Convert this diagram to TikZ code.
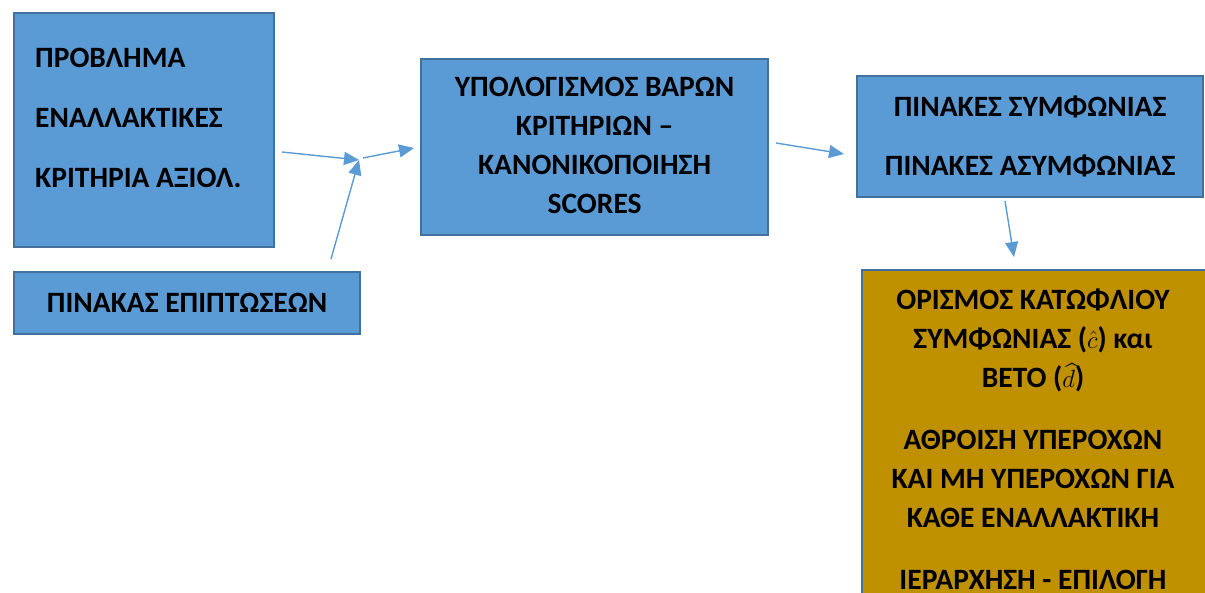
\documentclass[tikz,border=0pt]{standalone}
\usepackage{fontspec}
\setmainfont{Carlito}
\usepackage{amsmath}
\usepackage{tikz}
\usetikzlibrary{arrows.meta,positioning,calc}
\definecolor{boxblue}{HTML}{5B9BD5}
\definecolor{edgeblue}{HTML}{41719C}
\definecolor{boxgold}{HTML}{BF9000}
\newcommand{\hatsym}[1]{{\fontsize{33}{39}\selectfont$#1$}}

\begin{document}
\begin{tikzpicture}[x=1pt, y=-1pt,
  bluebox/.style={draw=edgeblue, line width=2.2pt, fill=boxblue, anchor=north west, inner sep=0pt},
  goldbox/.style={draw=edgeblue, line width=2.2pt, fill=boxgold, anchor=north west, inner sep=0pt},
  boxtext/.style={font=\fontsize{29.5}{39}\selectfont\bfseries, inner sep=0pt, align=center},
  flow/.style={-{Triangle[length=15pt,width=13pt]}, draw=boxblue, line width=1.4pt}]
\useasboundingbox (0,0) rectangle (1205,593);
% boxes
\node[bluebox, minimum width=260pt, minimum height=234pt] (prob) at (13,12) {};
\node[boxtext, anchor=north west, align=left] (probtxt) at (35,48)
  {ΠΡΟΒΛΗΜΑ\\[21pt] ΕΝΑΛΛΑΚΤΙΚΕΣ\\[21pt] ΚΡΙΤΗΡΙΑ ΑΞΙΟΛ.};
\node[bluebox, minimum width=346pt, minimum height=62pt] (impact) at (13,271) {};
\node[boxtext] (impacttxt) at (impact.center) {ΠΙΝΑΚΑΣ ΕΠΙΠΤΩΣΕΩΝ};
\node[bluebox, minimum width=347pt, minimum height=176pt] (weights) at (420,58) {};
\node[boxtext, yshift=2pt] (weightstxt) at (weights.center)
  {ΥΠΟΛΟΓΙΣΜΟΣ ΒΑΡΩΝ\\ ΚΡΙΤΗΡΙΩΝ --\\ ΚΑΝΟΝΙΚΟΠΟΙΗΣΗ\\ SCORES};
\node[bluebox, minimum width=346pt, minimum height=121pt] (tables) at (856,75) {};
\node[boxtext] (tablestxt) at (tables.center)
  {ΠΙΝΑΚΕΣ ΣΥΜΦΩΝΙΑΣ\\[20pt] ΠΙΝΑΚΕΣ ΑΣΥΜΦΩΝΙΑΣ};
\node[goldbox, minimum width=350pt, minimum height=340pt] (elect) at (861,269) {};
\node[boxtext, anchor=north] (electtxt) at (1033,289)
  {ΟΡΙΣΜΟΣ ΚΑΤΩΦΛΙΟΥ\\ ΣΥΜΦΩΝΙΑΣ (\hatsym{\hat{c}}) και\\ ΒΕΤΟ (\hatsym{\widehat{d}})\\[23pt]
   ΑΘΡΟΙΣΗ ΥΠΕΡΟΧΩΝ\\ ΚΑΙ ΜΗ ΥΠΕΡΟΧΩΝ ΓΙΑ\\ ΚΑΘΕ ΕΝΑΛΛΑΚΤΙΚΗ\\[23pt]
   ΙΕΡΑΡΧΗΣΗ - ΕΠΙΛΟΓΗ};
% arrows
\coordinate (j) at (359,160);
\coordinate (a1) at (282,152);
\coordinate (a2) at (331,259);
\coordinate (a3) at (363,158);
\coordinate (a3e) at (414,148);
\coordinate (a4) at (776,143);
\coordinate (a4e) at (844,154);
\coordinate (a5) at (1005,201);
\coordinate (a5e) at (1014,257);
\draw[flow] (a1) -- (j);
\draw[flow] (a2) -- (j);
\draw[flow] (a3) -- (a3e);
\draw[flow] (a4) -- (a4e);
\draw[flow] (a5) -- (a5e);
\end{tikzpicture}
\end{document}
